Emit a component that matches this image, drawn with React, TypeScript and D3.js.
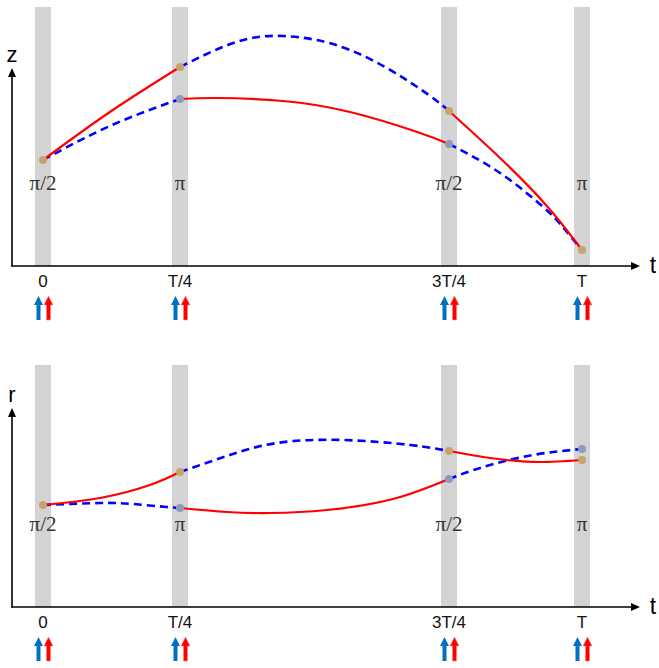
import * as d3 from 'd3'

// time positions of the four gray bands (in units of T)
const tickTimes = [0, 0.25, 0.75, 1]
const tickLabels = ['0', 'T/4', '3T/4', 'T']
const phaseLabels = ['π/2', 'π', 'π/2', 'π']

type Pt = [number, number] // [t, height]

// ---- top panel (z) ----
const zRedA: Pt[] = [[0, 106], [0.122, 154], [0.25, 199]]
const zBlueA: Pt[] = [[0, 106], [0.122, 140], [0.25, 167]]
const zBlueB: Pt[] = [[0.25, 199], [0.349, 223], [0.441, 230], [0.566, 216], [0.691, 179], [0.75, 155]]
const zRedB: Pt[] = [[0.25, 167], [0.319, 168], [0.441, 165], [0.566, 154], [0.691, 134], [0.75, 122]]
const zRedC: Pt[] = [[0.75, 155], [0.846, 108], [0.934, 60], [1, 16]]
const zBlueC: Pt[] = [[0.75, 122], [0.846, 93], [0.927, 59], [0.959, 42], [1, 16]]
const zTan: Pt[] = [[0, 106], [0.25, 199], [0.75, 155], [1, 16]]
const zGray: Pt[] = [[0.25, 167], [0.75, 122]]

// ---- bottom panel (r) ----
const rRedA: Pt[] = [[0, 102], [0.104, 109], [0.195, 122], [0.25, 135]]
const rBlueA: Pt[] = [[0, 102], [0.104, 104], [0.164, 103], [0.226, 100], [0.25, 99]]
const rBlueB: Pt[] = [[0.25, 135], [0.337, 151], [0.43, 164], [0.553, 167], [0.678, 162], [0.75, 156]]
const rRedB: Pt[] = [[0.25, 99], [0.337, 95], [0.418, 94], [0.523, 97], [0.646, 108], [0.75, 128]]
const rRedC: Pt[] = [[0.75, 156], [0.814, 150], [0.859, 147], [0.921, 145], [1, 147]]
const rBlueC: Pt[] = [[0.75, 128], [0.814, 140], [0.908, 152], [1, 158]]
const rTan: Pt[] = [[0, 102], [0.25, 135], [0.75, 156], [1, 147]]
const rGray: Pt[] = [[0.25, 99], [0.75, 128], [1, 158]]

const W = 659
const H = 668

const RED = '#ff0000'
const BLUE = '#0000ff'
const TAN = '#c9a46a'
const GRAYDOT = '#8a9bbe'
const BAND = '#d3d3d3'
const SANS = "'Liberation Sans', Arial, sans-serif"
const SERIF = "'Liberation Serif', 'Times New Roman', serif"

const x = d3.scaleLinear().domain(tickTimes).range([43, 180, 449, 582])

function Panel({ top, axisY, bandTop, label, reds, blues, tan, gray }: any) {
  const y = d3.scaleLinear().domain([0, 260]).range([axisY, axisY - 260])
  const line = d3.line<Pt>()
    .x(d => x(d[0]))
    .y(d => y(d[1]))
    .curve(d3.curveNatural)
  const arrowTop = axisY + 30
  const arrow = (cx: number) => {
    const s = 2, hw = 4.5, hh = 9, len = 24
    return `M${cx - s},${arrowTop + len} L${cx - s},${arrowTop + hh} L${cx - hw},${arrowTop + hh} L${cx},${arrowTop} L${cx + hw},${arrowTop + hh} L${cx + s},${arrowTop + hh} L${cx + s},${arrowTop + len} Z`
  }
  return (
    <g>
      {tickTimes.map(t => (
        <rect key={t} x={x(t) - 8} y={bandTop} width={16} height={axisY - bandTop} fill={BAND} />
      ))}
      {/* axes */}
      <line x1={12} x2={12} y1={axisY + 0.5} y2={top + 6} stroke="#000" strokeWidth={1.6} />
      <path d={`M12,${top} L8,${top + 9} L16,${top + 9} Z`} fill="#000" />
      <line x1={11.2} x2={632} y1={axisY} y2={axisY} stroke="#000" strokeWidth={1.6} />
      <path d={`M640,${axisY} L631,${axisY - 4} L631,${axisY + 4} Z`} fill="#000" />
      <text x={12} y={top - 6} textAnchor="middle" fontFamily={SANS} fontSize={22}>{label}</text>
      <text x={653} y={axisY + 7} textAnchor="middle" fontFamily={SANS} fontSize={23}>t</text>

      {tickTimes.map((t, i) => (
        <g key={'l' + t}>
          <text x={x(t)} y={axisY - 76} textAnchor="middle" fontFamily={SERIF} fontSize={21} fill="#333">{phaseLabels[i]}</text>
          <text x={x(t)} y={axisY + 21} textAnchor="middle" fontFamily={SANS} fontSize={17} fill="#111">{tickLabels[i]}</text>
          <path d={arrow(x(t) - 4.5)} fill="#0070c0" />
          <path d={arrow(x(t) + 5.5)} fill={RED} stroke="#ff8080" strokeWidth={0.6} />
        </g>
      ))}

      {blues.map((s: Pt[], i: number) => (
        <path key={'b' + i} d={line(s) || ''} fill="none" stroke={BLUE} strokeWidth={2.6} strokeDasharray="8 5" />
      ))}
      {reds.map((s: Pt[], i: number) => (
        <path key={'r' + i} d={line(s) || ''} fill="none" stroke={RED} strokeWidth={2.2} />
      ))}
      {tan.map((d: Pt, i: number) => (
        <circle key={'t' + i} cx={x(d[0])} cy={y(d[1])} r={4} fill={TAN} />
      ))}
      {gray.map((d: Pt, i: number) => (
        <circle key={'g' + i} cx={x(d[0])} cy={y(d[1])} r={4} fill={GRAYDOT} />
      ))}
    </g>
  )
}

export default function App() {
  return (
    <svg width={W} height={H} style={{ position: 'absolute', left: 0, top: 0, background: '#fff' }}>
      <Panel top={68} axisY={266} bandTop={7} label="z"
        reds={[zRedA, zRedB, zRedC]} blues={[zBlueA, zBlueB, zBlueC]} tan={zTan} gray={zGray} />
      <Panel top={408} axisY={607} bandTop={365} label="r"
        reds={[rRedA, rRedB, rRedC]} blues={[rBlueA, rBlueB, rBlueC]} tan={rTan} gray={rGray} />
    </svg>
  )
}
